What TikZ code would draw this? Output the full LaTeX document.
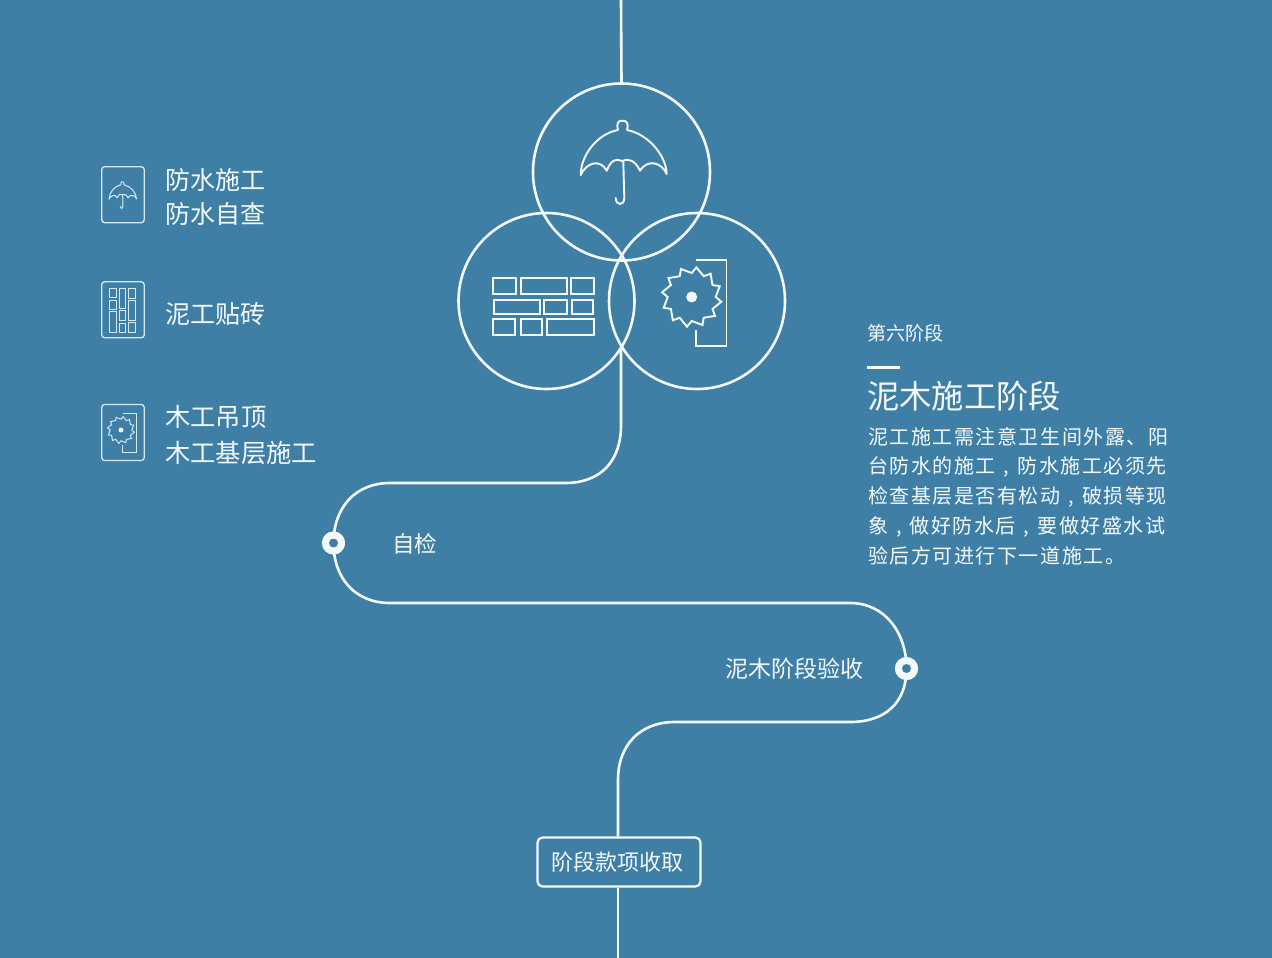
\documentclass[tikz,border=0pt]{standalone}
\usepackage{fontspec}
\setmainfont{Noto Sans CJK SC}
\usetikzlibrary{calc}
\definecolor{bgblue}{HTML}{3F7FA6}
\definecolor{inkw}{HTML}{F4FAFC}
\definecolor{inkl}{HTML}{D2EAF3}
\tikzset{
 wl/.style={draw=inkw,line width=2.6pt},
 thin icon/.style={draw=inkw,line width=1.9pt},
 smallicon/.style={draw=inkl,line width=1pt},
 iconbox/.style={draw=inkl,line width=1.3pt,rounded corners=3pt,minimum width=42.5pt,minimum height=56pt,inner sep=0pt},
 txt/.style={text=inkw,anchor=west,inner sep=0pt,align=left},
 waydot/.style={circle,fill=inkw,minimum size=23pt,inner sep=0pt},
}
\newcommand\ccomma{\makebox[1.08em][c]{,}}
\newcommand\umbrellaicon[1]{%
 \draw[#1,line join=round,line cap=round] (580.7,175) .. controls (581,155) and (597,134) .. (618,130)
  .. controls (616,122) and (619,120.7) .. (622.3,120.7) .. controls (626,120.7) and (629,122) .. (627,130)
  .. controls (648,134) and (666,155) .. (666.7,174)
  .. controls (662,163) and (648,158) .. (640,170.7)
  .. controls (635,160) and (628,158) .. (622,161)
  .. controls (616,158) and (611,160) .. (606.7,170.7)
  .. controls (600,158) and (586,163) .. (580.7,175) -- cycle;
 \draw[#1,line cap=round] (623.3,161.7) -- (624.3,198) .. controls (624.3,206) and (616,206) .. (615.7,198);}
\newcommand\bricksicon[1]{%
 \foreach \xa/\ya/\xb/\yb in {493.3/277.7/516/294,520.7/277.7/566.7/294,571/277.7/594.3/294,
   494/300/540/314,544.3/300/567.3/314,572.3/300/593.3/314,
   492.7/319.3/515/335.3,520.7/319.3/542.3/335.3,546.7/319.3/594/335.3}
  {\draw[#1] (\xa,\ya) rectangle (\xb,\yb);}}
\newcommand\sawicon[1]{%
 \draw[#1,line join=miter] ($(691.7,297)+(0:24)$) \foreach \i in {1,...,12}{
   -- ($(691.7,297)+({\i*30-21}:30)$) -- ($(691.7,297)+({\i*30}:24)$) } -- cycle;
 \fill[inkw] (691.7,297) circle (5.5);
 \draw[#1] (696,260) -- (726.5,260) -- (726.5,346) -- (696,346) -- (696,330);}
\begin{document}
\begin{tikzpicture}[x=1pt,y=-1pt]
\useasboundingbox (0,0) rectangle (1272,958);
\fill[bgblue] (0,0) rectangle (1272,958);
\node[wl,circle,minimum size=177pt,inner sep=0pt] (top) at (621.5,172) {};
\node[wl,circle,minimum size=176pt,inner sep=0pt] (lft) at (546.5,301) {};
\node[wl,circle,minimum size=176pt,inner sep=0pt] (rgt) at (697,301) {};
\coordinate (start) at (621,0);
\coordinate (meet) at (621,347);
\coordinate (end) at (618,958);
\node[waydot] (d1) at (333.5,543) {};
\node[waydot] (d2) at (906.5,668.5) {};
\node[draw=inkw,line width=2.2pt,rounded corners=5pt,minimum width=163pt,minimum height=49pt,inner sep=0pt,text=inkw,font=\fontsize{22}{26}\selectfont] (box) at (619,862) {\hspace*{-4pt}阶段款项收取};
\draw[wl] (start) -- (top.north);
\draw[wl] (meet) -- (621,425) .. controls (621,462) and (600,483) .. (565,483) -- (390,483)
  .. controls (355,483) and (333.5,508) .. (d1.center) .. controls (333.5,578) and (355,603) .. (390,603)
  -- (850,603) .. controls (885,603) and (906.5,633) .. (d2.center) .. controls (906.5,703) and (885,722) .. (850,722)
  -- (675,722) .. controls (640,722) and (618,745) .. (618,780) -- (box.north -| 618,0);
\draw[wl] (box.south -| 618,0) -- (end);
\fill[inkw] (d1) circle (11.5);
\fill[inkw] (d2) circle (11.5);
\fill[bgblue] (d1) circle (4.5);
\fill[bgblue] (d2) circle (4.5);
\umbrellaicon{thin icon}
\bricksicon{thin icon}
\sawicon{thin icon}
\node[iconbox] (b1) at (123,194.7) {};
\node[iconbox] (b2) at (123,309.8) {};
\node[iconbox] (b3) at (123,432.5) {};
\begin{scope}[shift={(122.8,195)},scale=.32,shift={(-623.7,-162)}]\umbrellaicon{smallicon}\end{scope}
\begin{scope}[shift={(122.5,310.5)},rotate=-90,scale=.44,shift={(-543.5,-306.5)}]\bricksicon{smallicon}\end{scope}
\begin{scope}[shift={(121,430)},scale=.45,shift={(-691.7,-297)}]\sawicon{smallicon}\end{scope}
\node[txt,font=\fontsize{25}{34}\selectfont] (t1) at (165,197) {防水施工\\防水自查};
\node[txt,font=\fontsize{25}{34}\selectfont] (t2) at (165,314) {泥工贴砖};
\node[txt,font=\fontsize{25.3}{36}\selectfont] (t3) at (165,435.5) {木工吊顶\\木工基层施工};
\node[txt,font=\fontsize{19}{24}\selectfont] (s1) at (867,333) {第六阶段};
\node[fill=inkw,minimum width=33pt,minimum height=3pt,inner sep=0pt,anchor=west] (bar) at (867,367.5) {};
\node[txt,font=\fontsize{32.3}{38}\selectfont] (s2) at (867,396) {泥木施工阶段};
\node[txt,font=\fontsize{20}{29.7}\selectfont\addfontfeature{LetterSpace=7.7}] (s3) at (868,496) {泥工施工需注意卫生间外露、阳\\台防水的施工\ccomma 防水施工必须先\\检查基层是否有松动\ccomma 破损等现\\象\ccomma 做好防水后\ccomma 要做好盛水试\\验后方可进行下一道施工。};
\node[txt,font=\fontsize{22.5}{27}\selectfont] (l1) at (392,544) {自检};
\node[txt,font=\fontsize{23}{27}\selectfont] (l2) at (725,669) {泥木阶段验收};
\end{tikzpicture}
\end{document}
